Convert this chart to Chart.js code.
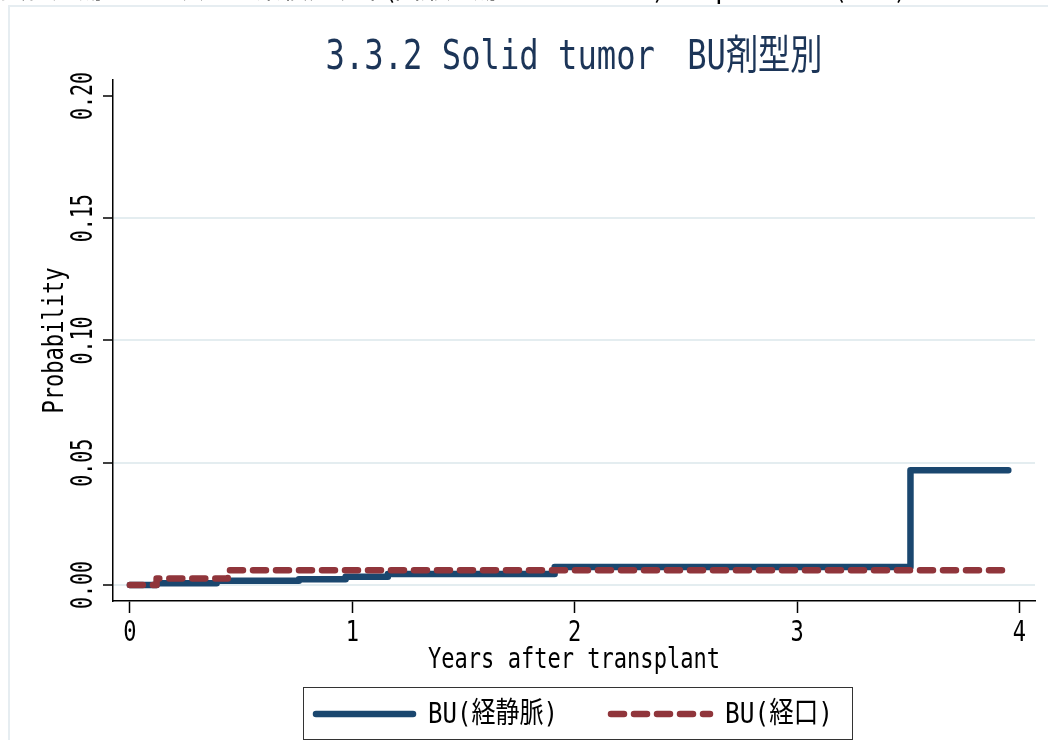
<!DOCTYPE html>
<html>
<head>
<meta charset="utf-8">
<script src="https://cdn.jsdelivr.net/npm/chart.js@4.4.1/dist/chart.umd.min.js"></script>
<style>
  html, body { margin: 0; padding: 0; background: #fff; }
  canvas { display: block; }
</style>
</head>
<body>
<canvas id="chart" width="1048" height="740"></canvas>
<script>
// Cumulative incidence, step points (years, probability)
const ivTimes = [0, 0.12, 0.39, 0.76, 0.97, 1.16, 1.91, 3.51, 3.95];
const ivValues = [0, 0.0008, 0.0018, 0.0024, 0.0034, 0.0045, 0.0074, 0.047, 0.047];
const oralTimes = [0, 0.12, 0.44, 3.93];
const oralValues = [0, 0.0027, 0.0061, 0.0061];

const xTickValues = [0, 1, 2, 3, 4];
const yTickValues = [0, 0.05, 0.10, 0.15, 0.20];
const yTickLabels = ['0.00', '0.05', '0.10', '0.15', '0.20'];

const seriesNames = ['BU(経静脈)', 'BU(経口)'];
const titleText = '3.3.2 Solid tumor\u3000BU剤型別';
const xTitle = 'Years after transplant';
const yTitle = 'Probability';
const headerText = '良性腫瘍 3.3 二次がん累積発現率(固形腫瘍\u3000\u3000\u3000\u3000\u3000\u3000)\u3000\u3000p\u3000\u3000\u3000\u3000(\u3000別)';

const BLUE = '#1a476f';
const RED = '#90353b';
const FONT = '"DejaVu Sans Mono", "Noto Sans CJK JP", monospace';

// tall, narrow text (looks closer to the gothic font of the original)
function drawText(ctx, text, x, y, size, width, color, rot) {
    ctx.save();
    ctx.font = size + 'px ' + FONT;
    const w = ctx.measureText(text).width;
    const sx = width ? width / w : 0.76;
    ctx.translate(x, y);
    if (rot) ctx.rotate(rot);
    ctx.scale(sx, 1);
    ctx.fillStyle = color || '#000';
    ctx.textAlign = 'center';
    ctx.textBaseline = 'middle';
    ctx.fillText(text, 0, 0);
    ctx.restore();
}

const decorPlugin = {
    id: 'decor',
    beforeDraw(chart) {
        const ctx = chart.ctx;
        ctx.save();
        ctx.fillStyle = '#fff';
        ctx.fillRect(0, 0, chart.width, chart.height);
        // outer graph region frame
        ctx.strokeStyle = '#e6edf1';
        ctx.lineWidth = 2;
        ctx.strokeRect(9, 6, chart.width + 20, chart.height + 20);
        // clipped header line of the page above (only its bottom edge shows)
        ctx.font = '26px "Noto Sans CJK JP"';
        ctx.fillStyle = '#000';
        ctx.textBaseline = 'alphabetic';
        ctx.fillText(headerText, 0, -2);
        ctx.restore();
    },
    afterDraw(chart) {
        const ctx = chart.ctx;
        const xs = chart.scales.x, ys = chart.scales.y;
        const area = chart.chartArea;

        drawText(ctx, titleText, (area.left + area.right) / 2, 58, 41, 497, '#1c3558');

        yTickValues.forEach((v, i) => {
            drawText(ctx, yTickLabels[i], 84, ys.getPixelForValue(v), 30, 48, '#000', -Math.PI / 2);
        });
        drawText(ctx, yTitle, 55, (area.top + area.bottom) / 2, 29, 146, '#000', -Math.PI / 2);

        xTickValues.forEach(v => {
            drawText(ctx, String(v), xs.getPixelForValue(v), 633, 29, null, '#000');
        });
        drawText(ctx, xTitle, (area.left + area.right) / 2, 660, 29, 292, '#000');

        // legend
        ctx.save();
        ctx.strokeStyle = '#333';
        ctx.lineWidth = 1;
        ctx.strokeRect(303.5, 687.5, 549, 52);
        ctx.lineCap = 'round';
        ctx.lineWidth = 6.5;
        ctx.strokeStyle = BLUE;
        ctx.beginPath();
        ctx.moveTo(316, 714);
        ctx.lineTo(413, 714);
        ctx.stroke();
        ctx.strokeStyle = RED;
        ctx.setLineDash([13, 10]);
        ctx.beginPath();
        ctx.moveTo(611, 714);
        ctx.lineTo(710, 714);
        ctx.stroke();
        ctx.restore();
        drawText(ctx, seriesNames[0], 493, 715, 29, 130, '#000');
        drawText(ctx, seriesNames[1], 779, 715, 29, 108, '#000');
    }
};

const ctx = document.getElementById('chart').getContext('2d');
new Chart(ctx, {
    type: 'line',
    data: {
        datasets: [
            {
                label: seriesNames[1],
                data: oralTimes.map((t, i) => ({ x: t, y: oralValues[i] })),
                borderColor: RED,
                borderWidth: 6.5,
                borderDash: [13, 10],
                borderCapStyle: 'round',
                borderJoinStyle: 'round',
                stepped: true,
                pointRadius: 0,
                fill: false,
                order: 0
            },
            {
                label: seriesNames[0],
                data: ivTimes.map((t, i) => ({ x: t, y: ivValues[i] })),
                borderColor: BLUE,
                borderWidth: 6.5,
                borderCapStyle: 'round',
                borderJoinStyle: 'round',
                stepped: true,
                pointRadius: 0,
                fill: false,
                order: 1
            }
        ]
    },
    options: {
        responsive: false,
        animation: false,
        layout: { padding: { left: 0, right: 13, top: 80, bottom: 59 } },
        plugins: {
            legend: { display: false },
            title: { display: false },
            tooltip: { enabled: false }
        },
        scales: {
            x: {
                type: 'linear',
                min: -0.076,
                max: 4.07,
                afterBuildTicks: s => { s.ticks = xTickValues.map(v => ({ value: v })); },
                afterFit: s => { s.height = 80; },
                ticks: { display: false },
                grid: {
                    drawOnChartArea: false,
                    drawTicks: true,
                    tickLength: 12,
                    tickColor: '#000',
                    tickWidth: 1.5
                },
                border: { color: '#000', width: 1.5 }
            },
            y: {
                type: 'linear',
                min: -0.0065,
                max: 0.2065,
                afterBuildTicks: s => { s.ticks = yTickValues.map(v => ({ value: v })); },
                afterFit: s => { s.width = 113; },
                ticks: { display: false },
                grid: {
                    color: c => (c.tick && c.tick.value >= 0.2) ? 'rgba(0,0,0,0)' : '#e4edf0',
                    lineWidth: 2,
                    drawTicks: true,
                    tickLength: 10,
                    tickColor: '#000',
                    tickWidth: 1.5
                },
                border: { color: '#000', width: 1.5 }
            }
        }
    },
    plugins: [decorPlugin]
});
</script>
</body>
</html>
